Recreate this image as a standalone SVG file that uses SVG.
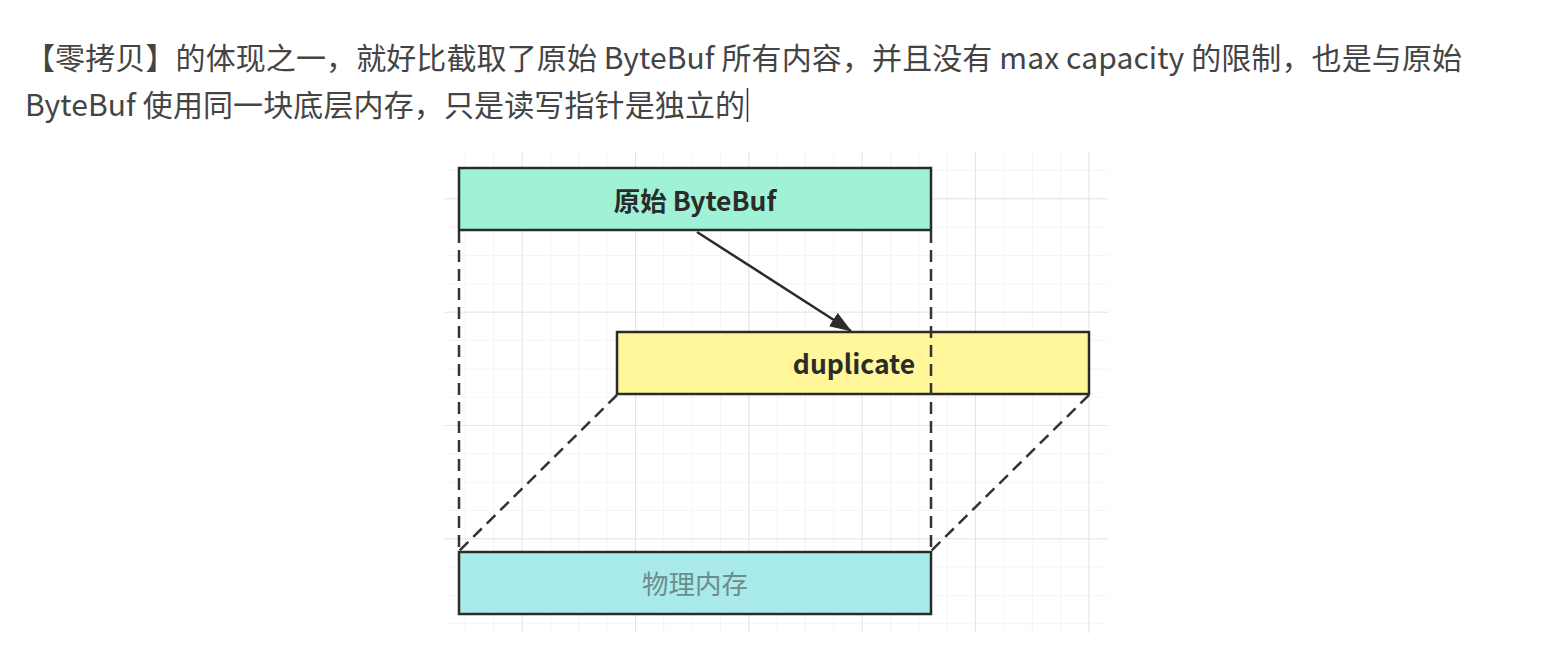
<svg xmlns="http://www.w3.org/2000/svg" width="1550" height="663" viewBox="0 0 1550 663">
  <style>
    .para { font-family: "Noto Sans CJK SC", "Noto Sans", sans-serif; font-size: 30px; fill: #444; }
    .box { stroke: #2b2b2b; stroke-width: 2.5; }
    .lbl { font-family: "Noto Sans CJK SC", "Noto Sans", sans-serif; font-size: 26.5px; text-anchor: middle; dominant-baseline: central; }
    .dash { fill: none; stroke: #333; stroke-width: 2.5; stroke-dasharray: 12 7; }
  </style>
  <defs>
    <pattern id="gMinor" patternUnits="userSpaceOnUse" x="465" y="170" width="28.333" height="28.333">
      <path d="M0 0 V28.333 M0 0 H28.333" stroke="#ececec" stroke-width="1.2" fill="none"/>
    </pattern>
    <pattern id="gMajor" patternUnits="userSpaceOnUse" x="521.67" y="198.33" width="113.333" height="113.333">
      <path d="M0 0 V113.333 M0 0 H113.333" stroke="#e0e0e0" stroke-width="1.4" fill="none"/>
    </pattern>
    <marker id="arrow" viewBox="0 0 22 16" refX="21" refY="8" markerWidth="22" markerHeight="16" markerUnits="userSpaceOnUse" orient="auto">
      <path d="M0 0 L22 8 L0 16 Z" fill="#2b2b2b"/>
    </marker>
  </defs>
  <rect width="1550" height="663" fill="#ffffff"/>

  <g id="paragraph">
    <text class="para" x="25" y="69" textLength="1437" lengthAdjust="spacing">【零拷贝】的体现之一，就好比截取了原始 ByteBuf 所有内容，并且没有 max capacity 的限制，也是与原始</text>
    <text class="para" x="25" y="116" textLength="720" lengthAdjust="spacing">ByteBuf 使用同一块底层内存，只是读写指针是独立的</text>
    <line x1="747.5" y1="88" x2="747.5" y2="122" stroke="#333" stroke-width="1.5"/>
  </g>

  <g id="grid">
    <rect x="445" y="152" width="663" height="481" fill="url(#gMinor)"/>
    <rect x="445" y="152" width="663" height="481" fill="url(#gMajor)"/>
  </g>

  <g id="original">
    <rect class="box" x="459" y="168" width="472" height="62" fill="#9ff2d6"/>
    <text class="lbl" x="695" y="199" font-weight="bold" fill="#2b2b2b">原始 ByteBuf</text>
  </g>

  <g id="duplicate">
    <rect class="box" x="617" y="332" width="472" height="62" fill="#fff79a"/>
    <text class="lbl" x="854" y="362" font-weight="bold" fill="#2b2b2b">duplicate</text>
  </g>

  <g id="memory">
    <rect class="box" x="459" y="552" width="472" height="62" fill="#a8ebea" stroke="#3a3a3a"/>
    <text class="lbl" x="695" y="582" font-size="26px" fill="#6f8c8c">物理内存</text>
  </g>

  <g id="connectors">
    <line x1="697" y1="232" x2="851" y2="331" stroke="#2b2b2b" stroke-width="2.5" marker-end="url(#arrow)"/>
    <line class="dash" x1="459" y1="231" x2="459" y2="551"/>
    <line class="dash" x1="931" y1="231" x2="931" y2="551"/>
    <line class="dash" x1="617" y1="395" x2="459" y2="551"/>
    <line class="dash" x1="1089" y1="395" x2="931" y2="551"/>
  </g>
</svg>
